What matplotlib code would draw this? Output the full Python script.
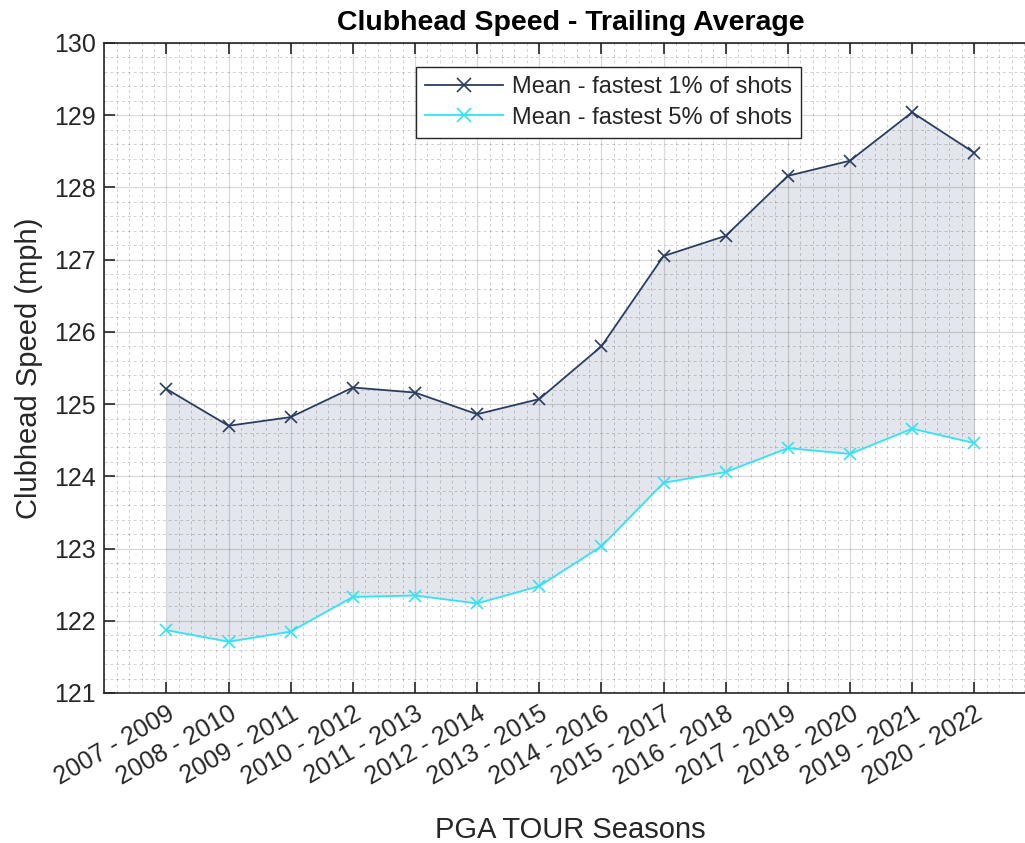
import matplotlib
matplotlib.use("Agg")
import matplotlib.pyplot as plt
from matplotlib.ticker import MultipleLocator
import numpy as np

SEASONS = [
    "2007 - 2009", "2008 - 2010", "2009 - 2011", "2010 - 2012", "2011 - 2013",
    "2012 - 2014", "2013 - 2015", "2014 - 2016", "2015 - 2017", "2016 - 2018",
    "2017 - 2019", "2018 - 2020", "2019 - 2021", "2020 - 2022",
]
TOP1 = [125.21, 124.70, 124.82, 125.23, 125.16, 124.86, 125.07,
        125.80, 127.05, 127.33, 128.16, 128.37, 129.04, 128.48]
TOP5 = [121.87, 121.71, 121.85, 122.33, 122.35, 122.24, 122.48,
        123.03, 123.91, 124.06, 124.39, 124.31, 124.66, 124.46]

DARK = "#2b3d5e"
CYAN = "#33e3f2"
FILL = "#e3e6ec"
TEXT = "#262626"

plt.rcParams["font.family"] = ["Liberation Sans", "DejaVu Sans"]

fig = plt.figure(figsize=(10.25, 8.43), dpi=100)
W, H = 1025, 843
ax = fig.add_axes([104.3 / W, 1 - 693 / H, (1036.4 - 104.3) / W, (693 - 43) / H])

x = np.arange(1, len(SEASONS) + 1)
ax.fill_between(x, TOP5, TOP1, color=FILL, linewidth=0, zorder=1)
ax.plot(x, TOP1, color=DARK, marker="x", markersize=8, markeredgewidth=1.2,
        linewidth=1.3, label="Mean - fastest 1% of shots", zorder=3)
ax.plot(x, TOP5, color=CYAN, marker="x", markersize=8, markeredgewidth=1.2,
        linewidth=1.3, label="Mean - fastest 5% of shots", zorder=3)

ax.set_xlim(0, 15)
ax.set_ylim(121, 130)
ax.set_xticks(x)
ax.set_xticklabels(SEASONS, rotation=30, ha="right", rotation_mode="anchor")
ax.xaxis.set_minor_locator(MultipleLocator(0.2))
ax.yaxis.set_minor_locator(MultipleLocator(0.2))

ax.grid(which="major", color="#000000", alpha=0.15, linewidth=0.9, zorder=2)
ax.grid(which="minor", color="#000000", alpha=0.18, linewidth=0.7,
        linestyle=(0, (3, 3)), zorder=2)
ax.set_axisbelow(False)

ax.tick_params(which="major", direction="in", length=8, width=1.2,
               top=True, right=True, colors=TEXT, labelsize=18, pad=6)
ax.tick_params(which="minor", length=0)
for sp in ax.spines.values():
    sp.set_color(TEXT)
    sp.set_linewidth(1.2)

ax.set_title("Clubhead Speed - Trailing Average", fontsize=20.5,
             fontweight="bold", color="black", pad=9)
ax.set_ylabel("Clubhead Speed (mph)", fontsize=21, color=TEXT, labelpad=8)
ax.set_xlabel("PGA TOUR Seasons", fontsize=21, color=TEXT, labelpad=19)

leg = ax.legend(loc="upper left", bbox_to_anchor=((416 - 104.3) / (1036.4 - 104.3), 1 - (67 - 43) / 650),
                fontsize=17, frameon=True, fancybox=False, framealpha=1,
                edgecolor=TEXT, handlelength=3.3, borderpad=0.4,
                labelspacing=0.35, handletextpad=0.35, borderaxespad=0,
                markerscale=1.2)
leg.get_frame().set_linewidth(1.0)
for t in leg.get_texts():
    t.set_color(TEXT)

fig.savefig("out.png", dpi=100)
